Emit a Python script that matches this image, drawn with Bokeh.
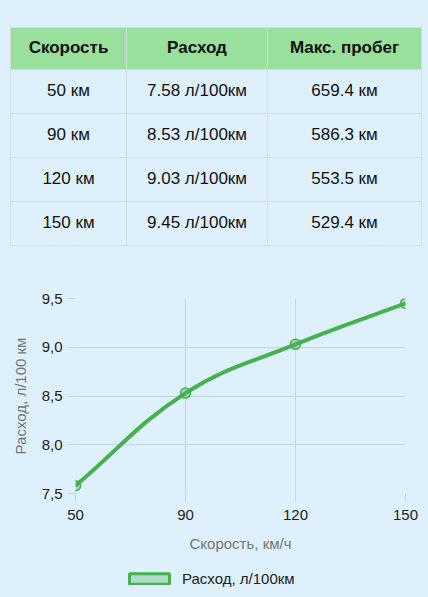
import math
from bokeh.plotting import figure
from bokeh.models import Div, Range1d, FixedTicker, Legend, LegendItem
from bokeh.layouts import column
from bokeh.embed import file_html
from bokeh.resources import INLINE

# ---- data ----
speeds = [50, 90, 120, 150]
consumption = [7.58, 8.53, 9.03, 9.45]
max_range = [659.4, 586.3, 553.5, 529.4]
headers = ["Скорость", "Расход", "Макс. пробег"]
x_tick_labels = ["50", "90", "120", "150"]
y_ticks = [7.5, 8.0, 8.5, 9.0, 9.5]
y_tick_labels = ["7,5", "8,0", "8,5", "9,0", "9,5"]
series_label = "Расход, л/100км"
x_title = "Скорость, км/ч"
y_title = "Расход, л/100 км"

BG = "#ddf0fc"
GREEN = "#45b14f"
HEADER = "#98e09b"
GRID = "#c5d6e2"
FONT = "Liberation Sans"

# ---- table ----
col_w = [116, 141, 154]
cell = "border:1px solid #d3dde3; text-align:center; padding:0;"
rows_html = "<tr style='background:%s;height:42px;'>" % HEADER
for h, w in zip(headers, col_w):
    rows_html += f"<th style='{cell} width:{w}px; font-weight:bold;'>{h}</th>"
rows_html += "</tr>"
for s, c, m in zip(speeds, consumption, max_range):
    rows_html += "<tr style='height:44px;'>"
    rows_html += f"<td style='{cell}'>{s} км</td>"
    rows_html += f"<td style='{cell}'>{c:.2f} л/100км</td>"
    rows_html += f"<td style='{cell}'>{m:.1f} км</td>"
    rows_html += "</tr>"
table_html = (
    "<table style=\"border-collapse:collapse; table-layout:fixed; width:411px; "
    "margin:27px 0 0 10px; font-family:'Liberation Sans',Arial,sans-serif; "
    "font-size:17px; color:#111;\">" + rows_html + "</table>"
)
div = Div(text=table_html, width=428, height=258, styles={"margin": "0", "padding": "0"})

# ---- chart ----
idx = list(range(len(speeds)))
FW, FH = 330, 195
p = figure(
    frame_width=FW, frame_height=FH,
    min_border_left=75, min_border_right=23, min_border_top=40, min_border_bottom=64,
    x_range=Range1d(0, len(speeds) - 1), y_range=Range1d(y_ticks[0], y_ticks[-1]),
    output_backend="svg", toolbar_location=None,
    background_fill_color=BG, border_fill_color=BG, outline_line_color=None,
)

# Chart.js-like spline (tension 0.4) computed in screen space from the data
sx = FW / (len(speeds) - 1)
sy = FH / (y_ticks[-1] - y_ticks[0])
P = [(i * sx, v * sy) for i, v in zip(idx, consumption)]
t = 0.4
cp_prev, cp_next = [], []
n = len(P)
for i in range(n):
    p0 = P[max(i - 1, 0)]
    p1 = P[i]
    p2 = P[min(i + 1, n - 1)]
    d01 = math.hypot(p1[0] - p0[0], p1[1] - p0[1])
    d12 = math.hypot(p2[0] - p1[0], p2[1] - p1[1])
    tot = d01 + d12
    s01 = d01 / tot if tot else 0
    s12 = d12 / tot if tot else 0
    fa, fb = t * s01, t * s12
    dx, dy = p2[0] - p0[0], p2[1] - p0[1]
    cp_prev.append((p1[0] - fa * dx, p1[1] - fa * dy))
    cp_next.append((p1[0] + fb * dx, p1[1] + fb * dy))

p.bezier(
    x0=[P[i][0] / sx for i in range(n - 1)], y0=[P[i][1] / sy for i in range(n - 1)],
    x1=[P[i + 1][0] / sx for i in range(n - 1)], y1=[P[i + 1][1] / sy for i in range(n - 1)],
    cx0=[cp_next[i][0] / sx for i in range(n - 1)], cy0=[cp_next[i][1] / sy for i in range(n - 1)],
    cx1=[cp_prev[i + 1][0] / sx for i in range(n - 1)], cy1=[cp_prev[i + 1][1] / sy for i in range(n - 1)],
    line_color=GREEN, line_width=4,
)
p.scatter(idx, consumption, size=10, marker="circle", fill_color=GREEN, fill_alpha=0.35,
          line_color=GREEN, line_width=1.5)

# axes
p.xaxis.ticker = FixedTicker(ticks=idx)
p.xaxis.major_label_overrides = {i: lab for i, lab in zip(idx, x_tick_labels)}
p.yaxis.ticker = FixedTicker(ticks=y_ticks)
p.yaxis.major_label_overrides = {v: lab for v, lab in zip(y_ticks, y_tick_labels)}
p.xaxis.axis_label = x_title
p.yaxis.axis_label = y_title
for ax in (p.xaxis, p.yaxis):
    ax.axis_line_color = None
    ax.major_tick_line_color = GRID
    ax.major_tick_out = 8
    ax.major_tick_in = 0
    ax.minor_tick_line_color = None
    ax.major_label_text_font = FONT
    ax.major_label_text_font_size = "15px"
    ax.major_label_text_color = "#222"
    ax.axis_label_text_font = FONT
    ax.axis_label_text_font_size = "15px"
    ax.axis_label_text_font_style = "normal"
    ax.axis_label_text_color = "#777"
p.xaxis.major_label_standoff = 8
p.xaxis.axis_label_standoff = 12
p.yaxis.major_label_standoff = 5
p.yaxis.axis_label_standoff = 10
p.xgrid.grid_line_color = GRID
p.ygrid.grid_line_color = GRID

# ---- legend (own strip below the chart) ----
lg = figure(width=428, height=40, min_border=0, output_backend="svg", toolbar_location=None,
            x_range=Range1d(0, 1), y_range=Range1d(0, 1),
            x_axis_type=None, y_axis_type=None,
            background_fill_color=BG, border_fill_color=BG, outline_line_color=None)
lg.grid.visible = False
nan = float("nan")
dummy = lg.quad(left=[nan], right=[nan], top=[nan], bottom=[nan], fill_color=GREEN,
                fill_alpha=0.3, line_color=GREEN, line_width=3)
legend = Legend(items=[LegendItem(label=series_label, renderers=[dummy])],
                orientation="horizontal", location=(49, 10),
                background_fill_alpha=0, border_line_color=None,
                glyph_width=50, glyph_height=13, label_text_font=FONT,
                label_text_font_size="15px", label_text_color="#222",
                margin=0, padding=4, label_standoff=8)
lg.add_layout(legend, "center")

layout = column(div, p, lg, spacing=0, styles={"background-color": BG})

html = file_html(layout, INLINE)
html = html.replace("<head>", "<head><style>html,body{background-color:%s;}</style>" % BG, 1)
open("out.html", "w").write(html)
